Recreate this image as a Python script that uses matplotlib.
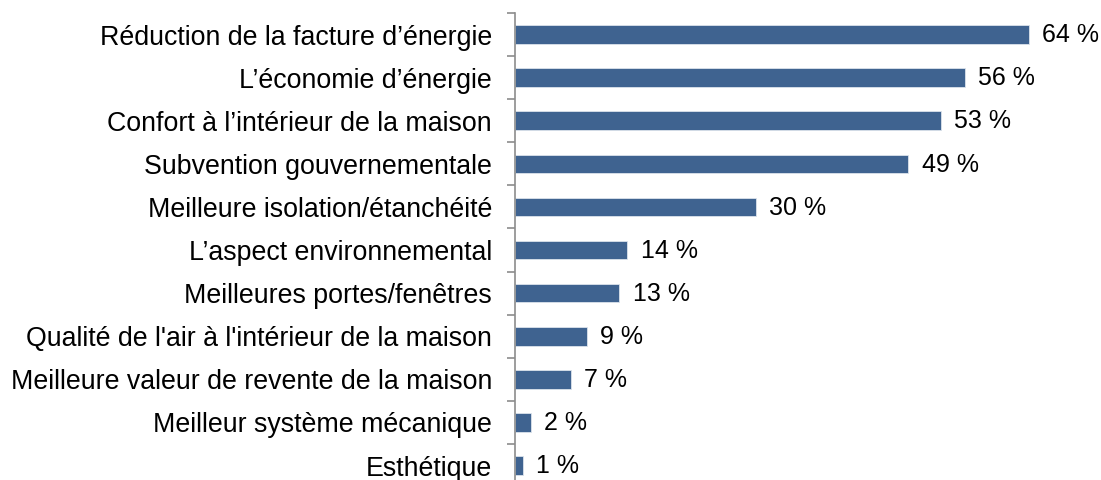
import matplotlib
matplotlib.use("Agg")
import matplotlib.pyplot as plt
import numpy as np

categories = [
    "Réduction de la facture d’énergie",
    "L’économie d’énergie",
    "Confort à l’intérieur de la maison",
    "Subvention gouvernementale",
    "Meilleure isolation/étanchéité",
    "L’aspect environnemental",
    "Meilleures portes/fenêtres",
    "Qualité de l'air à l'intérieur de la maison",
    "Meilleure valeur de revente de la maison",
    "Meilleur système mécanique",
    "Esthétique",
]
values = [64, 56, 53, 49, 30, 14, 13, 9, 7, 2, 1]
value_labels = [f"{v} %" for v in values]

plt.rcParams['font.family'] = ['Liberation Sans', 'DejaVu Sans']

fig = plt.figure(figsize=(11.01, 4.80), dpi=100)
W, H = 1101, 480
left_px, top_px = 515, 13
step_px = 43.1
n = len(categories)
xmax = 70
px_per = 8.03
ax = fig.add_axes([left_px / W, 1 - (top_px + n * step_px) / H,
                   xmax * px_per / W, n * step_px / H])

y = np.arange(n)
bar_color = "#3F6390"
ax.barh(y, values, height=0.43, color=bar_color, edgecolor="#DCE3EC", linewidth=0.6)
ax.set_ylim(n - 0.5, -0.5)
ax.set_xlim(0, xmax)

for yi, v, lab in zip(y, values, value_labels):
    ax.annotate(lab, (v, yi), xytext=(9.5, -0.5), textcoords="offset points",
                va="center", ha="left", fontsize=18, color="#000000")

ax.set_yticks(y)
ax.set_yticklabels(categories, fontsize=19.25)
ax.tick_params(axis="y", which="major", length=0, pad=16.5)
ax.set_yticks(np.arange(-0.5, n, 1.0), minor=True)
ax.tick_params(axis="y", which="minor", length=5.5, width=1.2, color="#8C8C8C", direction="out")
ax.set_xticks([])
for s in ["top", "right", "bottom"]:
    ax.spines[s].set_visible(False)
ax.spines["left"].set_color("#8C8C8C")
ax.spines["left"].set_linewidth(1.2)

fig.savefig("out.png", dpi=100)
